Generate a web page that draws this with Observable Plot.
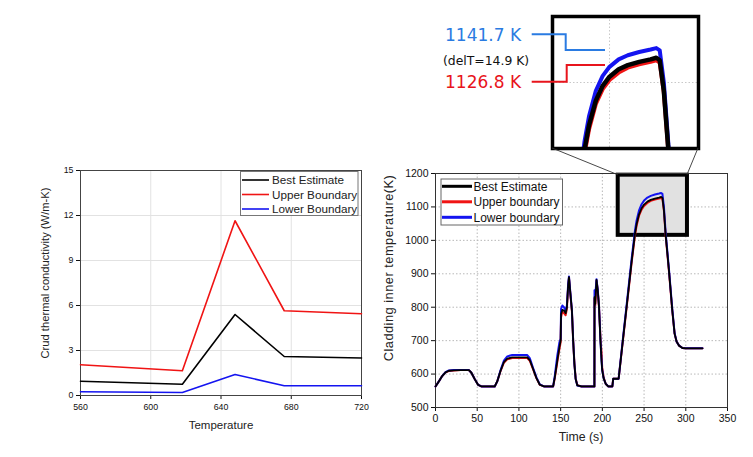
<!DOCTYPE html>
<html><head><meta charset="utf-8">
<script src="https://cdn.jsdelivr.net/npm/d3@7"></script>
<script src="https://cdn.jsdelivr.net/npm/@observablehq/plot@0.6"></script>
<style>
body{margin:0;background:#fff;}
#fig{position:relative;width:753px;height:457px;overflow:hidden;background:#fff;}
#fig > svg{position:absolute;overflow:visible;}
</style></head><body><div id="fig"></div>
<script>
// ---------- Left panel: crud thermal conductivity ----------
const crudTemp  = [560, 618, 648, 676, 720];
const crudBest  = [0.95, 0.75, 5.4, 2.6, 2.5];
const crudUpper = [2.05, 1.65, 11.65, 5.65, 5.45];
const crudLower = [0.25, 0.2, 1.4, 0.65, 0.65];
const crudNames = ["Best Estimate", "Upper Boundary", "Lower Boundary"];
const crudXTicks = [560, 600, 640, 680, 720];
const crudYTicks = [0, 3, 6, 9, 12, 15];

// ---------- Right panel: cladding inner temperature ----------
const time = [0,4,8,12,16,22,30,40,43,47,51,55,71,74,78,82,86,92,100,110,113,117,121,125,130,141,143,146,148.5,150,150.5,152,154,156,157.5,159,160,161.5,163.5,165,166.5,168,170,175,190.5,190.6,191.5,193,194.5,196,197.8,199,199.8,201.5,204,207,212,213,219.5,225,230,235,239,241,244,247,250,254,258,263,268,270.5,272,273.8,275.8,279.8,283.8,286.6,289,292,296,300,320];
const cladBest  = [563,578,594,605,610,611,612,612,604,585,568,563,563,578,610,636,646,650,650,650,642,615,588,568,563,563,590,640,680,700,780,792,790,782,800,865,890,845,790,700,630,585,566,563,563,830,810,882,850,800,695,640,612,588,571,563,563,586,586,710,822,935,1018,1048,1078,1096,1107,1116,1121,1125,1128,1130,1127,1090,1018,910,791,721,697,685,678,677,677];
const cladUpper = [563,578,594,605,609,611,612,612,604,585,568,563,563,578,609,634,644,648,648,648,640,614,588,568,563,563,588,636,675,695,770,786,782,776,795,860,888,843,788,700,632,587,567,563,563,825,805,880,848,800,705,665,620,590,571,563,563,586,586,708,819,931,1013,1043,1074,1092,1103,1112,1118,1122,1125,1126.8,1124,1088,1016,908,790,721,697,685,678,677,677];
const cladLower = [563,578,594,606,611,612,612,612,604,585,568,563,563,578,612,640,653,657,657,657,648,618,590,569,563,563,595,655,695,705,795,805,800,790,805,870,892,848,792,702,630,585,566,563,563,851,835,884,852,802,697,642,613,588,571,563,563,586,586,714,828,943,1028,1059,1090,1108,1119,1128,1133,1137,1140,1141.7,1139,1100,1025,915,795,722,697,685,678,677,677];
const cladNames = ["Best Estimate", "Upper boundary", "Lower boundary"];
const timeTicks = [0, 50, 100, 150, 200, 250, 300, 350];
const tempTicks = [500, 600, 700, 800, 900, 1000, 1100, 1200];
const zoomTime = [219, 302];
const zoomTemp = [1015, 1195];
const insetTime = [225, 289];
const insetTemp = [1020, 1180];
const insetGridTime = [250];
const insetGridTemp = [1100];
const peakLabels = ["1141.7 K", "(delT=14.9 K)", "1126.8 K"];

const BLACK = "#000000", RED = "#f01414", BLUE = "#1414f0";
const FONT = "'Liberation Sans', Arial, sans-serif";
const fig = d3.select("#fig").node();

// ---------- left plot ----------
const crudRows = [crudBest, crudUpper, crudLower].flatMap((vals, i) =>
  crudTemp.map((x, j) => ({name: crudNames[i], x, y: vals[j]})));

const left = Plot.plot({
  width: 380, height: 300,
  marginLeft: 80, marginRight: 19, marginTop: 20, marginBottom: 55,
  style: {fontFamily: FONT, fontSize: "8.8px", color: "#111", background: "transparent", overflow: "visible"},
  x: {domain: [560, 720], ticks: crudXTicks, label: null, tickSize: 4, tickPadding: 4, tickFormat: d3.format("d")},
  y: {domain: [0, 15], ticks: crudYTicks, label: null, tickSize: 4, tickPadding: 3, tickFormat: d3.format("d")},
  marks: [
    Plot.ruleX(crudXTicks, {stroke: "#e2e2e2"}),
    Plot.ruleY(crudYTicks, {stroke: "#e2e2e2"}),
    Plot.frame({stroke: "#444"}),
    Plot.line(crudRows.filter(d => d.name === crudNames[2]), {x: "x", y: "y", stroke: BLUE, strokeWidth: 1.6}),
    Plot.line(crudRows.filter(d => d.name === crudNames[0]), {x: "x", y: "y", stroke: BLACK, strokeWidth: 1.6}),
    Plot.line(crudRows.filter(d => d.name === crudNames[1]), {x: "x", y: "y", stroke: RED, strokeWidth: 1.6})
  ]
});
left.style.left = "0px"; left.style.top = "150px";
fig.appendChild(left);

// ---------- right plot ----------
const cladRows = [cladBest, cladUpper, cladLower].flatMap((vals, i) =>
  time.map((t, j) => ({name: cladNames[i], t, T: vals[j]})));
const series = name => cladRows.filter(d => d.name === name);

const right = Plot.plot({
  width: 373, height: 297,
  marginLeft: 55, marginRight: 26, marginTop: 13, marginBottom: 50,
  style: {fontFamily: FONT, fontSize: "10.5px", color: "#111", background: "transparent", overflow: "visible"},
  x: {domain: [0, 350], ticks: timeTicks, label: null, tickSize: 4, tickPadding: 3, tickFormat: d3.format("d")},
  y: {domain: [500, 1200], ticks: tempTicks, label: null, tickSize: 4, tickPadding: 3, tickFormat: d3.format("d")},
  marks: [
    Plot.ruleX(timeTicks, {stroke: "#b8b8b8", strokeDasharray: "1.5,2"}),
    Plot.ruleY(tempTicks, {stroke: "#b8b8b8", strokeDasharray: "1.5,2"}),
    Plot.rect([{}], {x1: () => zoomTime[0], x2: () => zoomTime[1], y1: () => zoomTemp[0], y2: () => zoomTemp[1], fill: "#e1e1e1", stroke: "#000", strokeWidth: 4}),
    Plot.frame({stroke: "#333"}),
    Plot.line(series(cladNames[1]), {x: "t", y: "T", stroke: RED, strokeWidth: 2}),
    Plot.line(series(cladNames[2]), {x: "t", y: "T", stroke: BLUE, strokeWidth: 2}),
    Plot.line(series(cladNames[0]), {x: "t", y: "T", stroke: BLACK, strokeWidth: 1.8})
  ]
});
right.style.left = "380px"; right.style.top = "160px";
fig.appendChild(right);

// ---------- inset (zoom of peak) ----------
const inset = Plot.plot({
  width: 150, height: 136, margin: 2,
  style: {background: "transparent", overflow: "visible"},
  x: {domain: insetTime, axis: null},
  y: {domain: insetTemp, axis: null},
  marks: [
    Plot.ruleX(insetGridTime, {stroke: "#c8c8c8", strokeDasharray: "1.5,2"}),
    Plot.ruleY(insetGridTemp, {stroke: "#c8c8c8", strokeDasharray: "1.5,2"}),
    Plot.line(series(cladNames[1]), {x: "t", y: "T", stroke: RED, strokeWidth: 4, clip: true}),
    Plot.line(series(cladNames[2]), {x: "t", y: "T", stroke: BLUE, strokeWidth: 4, clip: true}),
    Plot.line(series(cladNames[0]), {x: "t", y: "T", stroke: BLACK, strokeWidth: 4.5, clip: true}),
    Plot.frame({stroke: "#000", strokeWidth: 3.5})
  ]
});
inset.style.left = "550px"; inset.style.top = "14px";
fig.appendChild(inset);

// ---------- overlay: titles, legends, connectors, annotations ----------
const ov = d3.select(fig).append("svg")
  .attr("width", 753).attr("height", 457)
  .style("left", "0px").style("top", "0px")
  .attr("font-family", FONT);

// axis titles
ov.append("text").attr("x", 221).attr("y", 429).attr("text-anchor", "middle")
  .attr("font-size", 11.5).attr("fill", "#222").text("Temperature");
ov.append("text").attr("transform", "translate(49,273) rotate(-90)").attr("text-anchor", "middle")
  .attr("font-size", 11.2).attr("fill", "#222").text("Crud thermal conductivity (W/m-K)");
ov.append("text").attr("x", 581).attr("y", 441).attr("text-anchor", "middle")
  .attr("font-size", 12.3).attr("fill", "#222").text("Time (s)");
ov.append("text").attr("transform", "translate(393,268) rotate(-90)").attr("text-anchor", "middle")
  .attr("font-size", 12.8).attr("fill", "#222").attr("letter-spacing", 0.5).text("Cladding inner temperature(K)");

// left legend
const lg = ov.append("g");
lg.append("rect").attr("x", 240.5).attr("y", 171.5).attr("width", 117.5).attr("height", 44)
  .attr("fill", "#fff").attr("stroke", "#777");
[BLACK, RED, BLUE].forEach((c, i) => {
  const y = 180 + i * 14.5;
  lg.append("line").attr("x1", 242).attr("x2", 269).attr("y1", y).attr("y2", y).attr("stroke", c).attr("stroke-width", 1.6);
  lg.append("text").attr("x", 272).attr("y", y + 4).attr("font-size", 11.7).attr("fill", "#222").text(crudNames[i]);
});

// right legend
const rg = ov.append("g");
rg.append("rect").attr("x", 441).attr("y", 179).attr("width", 121.5).attr("height", 46)
  .attr("fill", "#fff").attr("stroke", "#666");
[BLACK, RED, BLUE].forEach((c, i) => {
  const y = 186.3 + i * 15.5;
  rg.append("line").attr("x1", 442).attr("x2", 472).attr("y1", y).attr("y2", y).attr("stroke", c).attr("stroke-width", 3);
  rg.append("text").attr("x", 473.5).attr("y", y + 4.3).attr("font-size", 12).attr("fill", "#111").text(cladNames[i]);
});

// connectors from zoom box (via right plot scales) to inset
const sx = right.scale("x"), sy = right.scale("y");
const bx1 = 380 + sx.apply(zoomTime[0]), bx2 = 380 + sx.apply(zoomTime[1]), by = 160 + sy.apply(zoomTemp[1]);
const ix = inset.scale("x"), iy = inset.scale("y");
const ix1 = 550 + ix.apply(insetTime[0]), ix2 = 550 + ix.apply(insetTime[1]), iyb = 14 + iy.apply(insetTemp[0]);
ov.append("line").attr("x1", ix1).attr("y1", iyb).attr("x2", bx1).attr("y2", by).attr("stroke", "#333").attr("stroke-width", 0.9);
ov.append("line").attr("x1", ix2).attr("y1", iyb).attr("x2", bx2).attr("y2", by).attr("stroke", "#333").attr("stroke-width", 0.9);

// peak annotations
const AFONT = "'DejaVu Sans', Verdana, sans-serif";
const TBLUE = "#2a7be2", TRED = "#e8141c";
ov.append("text").attr("x", 445).attr("y", 40.7).attr("font-family", AFONT).attr("font-size", 17).attr("fill", TBLUE).text(peakLabels[0]);
ov.append("text").attr("x", 443).attr("y", 65).attr("font-family", AFONT).attr("font-size", 12.4).attr("fill", "#111").text(peakLabels[1]);
ov.append("text").attr("x", 445).attr("y", 88.3).attr("font-family", AFONT).attr("font-size", 17).attr("fill", TRED).text(peakLabels[2]);
ov.append("path").attr("d", "M531.7,34.3H565.7V50H605").attr("fill", "none").attr("stroke", TBLUE).attr("stroke-width", 2);
ov.append("path").attr("d", "M531.7,81.7H566.7V65H605").attr("fill", "none").attr("stroke", TRED).attr("stroke-width", 2);
</script>
</body></html>
